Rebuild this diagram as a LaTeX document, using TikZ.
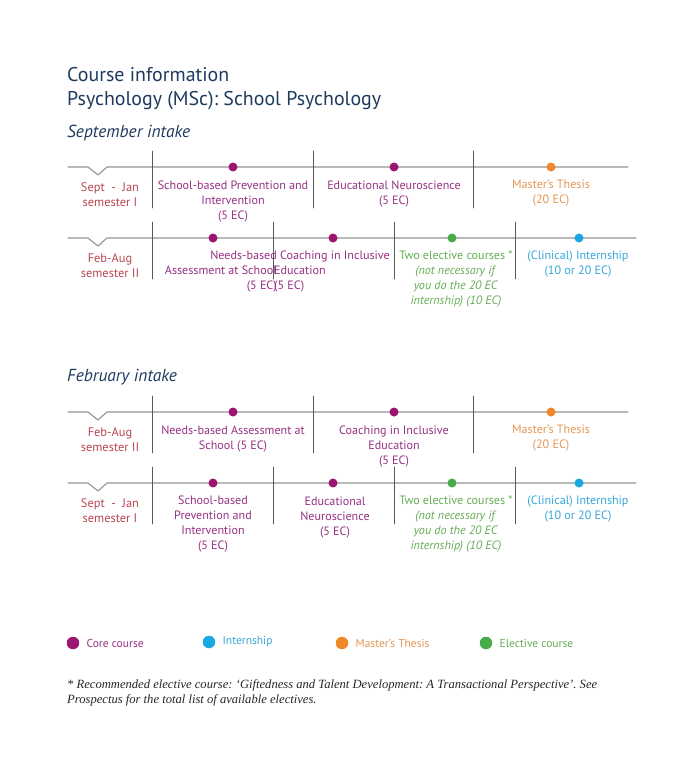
\documentclass[tikz,border=0pt]{standalone}
\usepackage{fontspec}
\setmainfont{PT Sans}
\newfontfamily\notefont{Liberation Serif}
\usepackage{tikz}
\usetikzlibrary{positioning}
\frenchspacing

\definecolor{titleblue}{RGB}{31,58,95}
\definecolor{semred}{RGB}{184,70,82}
\definecolor{coredot}{RGB}{155,20,112}
\definecolor{coretext}{RGB}{150,48,130}
\definecolor{thesisdot}{RGB}{240,135,40}
\definecolor{thesistext}{RGB}{228,150,85}
\definecolor{electdot}{RGB}{72,170,72}
\definecolor{electtext}{RGB}{100,172,85}
\definecolor{interndot}{RGB}{25,168,225}
\definecolor{interntext}{RGB}{55,165,215}

\begin{document}
\begin{tikzpicture}[
  x=1pt,
  y=-1pt,
  line cap=round,
  line join=round,
  timeline/.style={draw=black!42,line width=1.1pt},
  divider/.style={draw=black!65,line width=0.9pt},
  course/.style={font=\fontsize{12.1}{15}\selectfont,align=center,inner sep=0pt,anchor=north},
  semlabel/.style={course,text=semred,font=\fontsize{12.4}{15}\selectfont},
  heading/.style={font=\fontsize{19.9}{22}\selectfont,text=titleblue,inner sep=0pt,anchor=base west},
  intake/.style={font=\fontsize{17.4}{20}\selectfont\itshape,text=titleblue,inner sep=0pt,anchor=base west},
  dot/.style={circle,inner sep=0pt,minimum size=9pt},
  keydot/.style={circle,inner sep=0pt,minimum size=12.5pt},
  keytext/.style={font=\fontsize{11.5}{13}\selectfont,inner sep=0pt,anchor=west}
]
  \useasboundingbox (0,0) rectangle (700,765);

  % Title
  \node[heading] (title) at (67,82) {Course information};
  \node[heading] (subtitle) at (67,106) {Psychology (MSc): School Psychology};
  \node[intake] (sepintake) at (67,138) {September intake};
  \node[intake] (febintake) at (67,381) {February intake};

  % Timelines with the small notch under the semester label
  \foreach \ry/\rend in {167/628, 238/636, 412/628, 483/636} {
    \draw[timeline] (68,\ry) -- (88,\ry) -- (98,\ry+8) -- (107,\ry) -- (\rend,\ry);
  }

  % Block dividers
  \foreach \ry in {167,412} {
    \foreach \vx in {152,313,473} {
      \draw[divider] (\vx,\ry-16) -- (\vx,\ry+41);
    }
  }
  \foreach \ry in {238,483} {
    \foreach \vx in {152,273,394,515} {
      \draw[divider] (\vx,\ry-16) -- (\vx,\ry+41);
    }
  }

  % September intake, semester I
  \node[dot,fill=coredot] (sa1) at (233,167) {};
  \node[dot,fill=coredot] (sa2) at (394,167) {};
  \node[dot,fill=thesisdot] (sa3) at (551,167) {};
  \node[semlabel] (sasem) at (110,182.5) {Sept\ \ -\ \ Jan\\semester I};
  \node[course,text=coretext] (sa1text) at (233,181) {School-based Prevention and\\Intervention\\(5 EC)};
  \node[course,text=coretext] (sa2text) at (394,181) {Educational Neuroscience\\(5 EC)};
  \node[course,text=thesistext] (sa3text) at (551,180) {Master’s Thesis\\(20 EC)};

  % September intake, semester II
  \node[dot,fill=coredot] (sb1) at (213,238) {};
  \node[dot,fill=coredot] (sb2) at (333,238) {};
  \node[dot,fill=electdot] (sb3) at (452,238) {};
  \node[dot,fill=interndot] (sb4) at (579,238) {};
  \node[semlabel] (sbsem) at (110,253) {Feb-Aug\\semester II};
  \node[course,text=coretext,align=right,anchor=north east] (sb1text) at (277,251)
    {Needs-based\\Assessment at School\\(5 EC)};
  \node[course,text=coretext,align=left,anchor=north west] (sb2text) at (274,251)
    {\hspace*{6pt}Coaching in Inclusive\\Education\\(5 EC)};
  \node[course,text=electtext] (sb3text) at (456,251)
    {Two elective courses *\\\textit{(not necessary if}\\\textit{you do the 20 EC}\\\textit{internship) (10 EC)}};
  \node[course,text=interntext] (sb4text) at (578,251) {(Clinical) Internship\\(10 or 20 EC)};

  % February intake, semester II
  \node[dot,fill=coredot] (fa1) at (233,412) {};
  \node[dot,fill=coredot] (fa2) at (394,412) {};
  \node[dot,fill=thesisdot] (fa3) at (551,412) {};
  \node[semlabel] (fasem) at (110,427) {Feb-Aug\\semester II};
  \node[course,text=coretext] (fa1text) at (233,426) {Needs-based Assessment at\\School (5 EC)};
  \node[course,text=coretext] (fa2text) at (394,426) {Coaching in Inclusive\\Education\\(5 EC)};
  \node[course,text=thesistext] (fa3text) at (551,425) {Master’s Thesis\\(20 EC)};

  % February intake, semester I
  \node[dot,fill=coredot] (fb1) at (213,483) {};
  \node[dot,fill=coredot] (fb2) at (333,483) {};
  \node[dot,fill=electdot] (fb3) at (452,483) {};
  \node[dot,fill=interndot] (fb4) at (579,483) {};
  \node[semlabel] (fbsem) at (110,498) {Sept\ \ -\ \ Jan\\semester I};
  \node[course,text=coretext] (fb1text) at (213,496) {School-based\\Prevention and\\Intervention\\(5 EC)};
  \node[course,text=coretext] (fb2text) at (335,497) {Educational\\Neuroscience\\(5 EC)};
  \node[course,text=electtext] (fb3text) at (456,496)
    {Two elective courses *\\\textit{(not necessary if}\\\textit{you do the 20 EC}\\\textit{internship) (10 EC)}};
  \node[course,text=interntext] (fb4text) at (578,496) {(Clinical) Internship\\(10 or 20 EC)};

  % Legend
  \node[keydot,fill=coredot] (keycore) at (73,643) {};
  \node[keytext,text=coretext,right=7pt of keycore] (keycoretext) {Core course};
  \node[keydot,fill=interndot] (keyintern) at (209,642) {};
  \node[keytext,text=interntext,right=7pt of keyintern] (keyinterntext) {Internship};
  \node[keydot,fill=thesisdot] (keythesis) at (342,643) {};
  \node[keytext,text=thesistext,right=7pt of keythesis] (keythesistext) {Master’s Thesis};
  \node[keydot,fill=electdot] (keyelect) at (486,643) {};
  \node[keytext,text=electtext,right=7pt of keyelect] (keyelecttext) {Elective course};

  % Footnote
  \node[font=\notefont\itshape\fontsize{12.6}{15}\selectfont,align=left,inner sep=0pt,
    anchor=north west,text=black!85] (footnote) at (67,679)
    {* Recommended elective course: ‘Giftedness and Talent Development: A Transactional Perspective’. See\\
     Prospectus for the total list of available electives.};

\end{tikzpicture}
\end{document}
